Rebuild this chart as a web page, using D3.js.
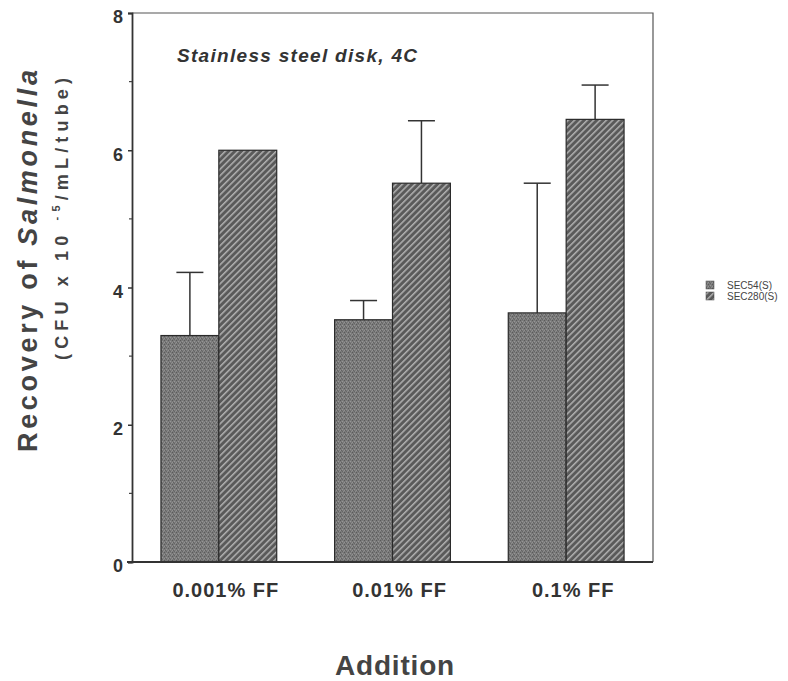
<!DOCTYPE html>
<html><head><meta charset="utf-8">
<script src="https://cdn.jsdelivr.net/npm/d3@7"></script>
<style>body{margin:0;background:#fff}svg{display:block}text{font-family:"Liberation Sans",Arial,sans-serif}</style>
</head><body><svg id="c" width="788" height="681"></svg>
<script>
const categories = ["0.001% FF", "0.01% FF", "0.1% FF"];
const seriesNames = ["SEC54(S)", "SEC280(S)"];
const sec54 = [3.30, 3.53, 3.63];
const sec54Err = [0.92, 0.28, 1.89];
const sec280 = [6.00, 5.52, 6.45];
const sec280Err = [0.0, 0.91, 0.50];
const yTicks = [0, 2, 4, 6, 8];
const yMinorTicks = [1, 3, 5, 7];

const svg = d3.select("#c");
const L = 132, R = 653, T = 13, B = 562;
const defs = svg.append("defs");
// stipple pattern
const p1 = defs.append("pattern").attr("id","stip").attr("patternUnits","userSpaceOnUse").attr("width",4).attr("height",4);
p1.append("rect").attr("width",4).attr("height",4).attr("fill","#7a7a7a");
[[0,0,"#5a5a5a"],[2,1,"#969696"],[1,2,"#626262"],[3,3,"#8c8c8c"],[2,3,"#666"],[0,2,"#929292"]].forEach(([x,y,c])=>p1.append("rect").attr("x",x).attr("y",y).attr("width",1).attr("height",1).attr("fill",c));
// hatch pattern
const p2 = defs.append("pattern").attr("id","hatch").attr("patternUnits","userSpaceOnUse").attr("width",4.5).attr("height",4.5).attr("patternTransform","rotate(45)");
p2.append("rect").attr("width",4.5).attr("height",4.5).attr("fill","#5a5a5a");
p2.append("rect").attr("x",0).attr("width",1.5).attr("height",4.5).attr("fill","#b0b0b0");

const x0 = d3.scaleBand().domain(categories).range([L, R]).paddingInner(1/3).paddingOuter(1/6);
const x1 = d3.scaleBand().domain(seriesNames).range([0, x0.bandwidth()]);
const y = d3.scaleLinear().domain([0, 8]).range([B, T]);

const data = categories.map((c,i)=>[
  {cat:c, s:seriesNames[0], v:sec54[i], e:sec54Err[i], fill:"url(#stip)"},
  {cat:c, s:seriesNames[1], v:sec280[i], e:sec280Err[i], fill:"url(#hatch)"}
]).flat();

// error bars
const eb = svg.append("g").attr("stroke","#333").attr("stroke-width",1.5);
data.filter(d=>d.e>0).forEach(d=>{
  const cx = x0(d.cat)+x1(d.s)+x1.bandwidth()/2;
  eb.append("line").attr("x1",cx).attr("x2",cx).attr("y1",y(d.v)).attr("y2",y(d.v+d.e));
  eb.append("line").attr("x1",cx-13.5).attr("x2",cx+13.5).attr("y1",y(d.v+d.e)).attr("y2",y(d.v+d.e));
});

svg.append("g").selectAll("rect").data(data).join("rect")
  .attr("x",d=>x0(d.cat)+x1(d.s)).attr("width",x1.bandwidth())
  .attr("y",d=>y(d.v)).attr("height",d=>y(0)-y(d.v))
  .attr("fill",d=>d.fill).attr("stroke","#2a2a2a").attr("stroke-width",1.2);

// frame
svg.append("path").attr("d",`M${L},${T}H${R}V${B}`).attr("fill","none").attr("stroke","#555").attr("stroke-width",1.2);

// y axis
const ya = svg.append("g").attr("transform",`translate(${L},0)`)
  .call(d3.axisLeft(y).tickValues(yTicks).tickSize(4).tickFormat(d3.format("d")));
ya.select(".domain").attr("stroke","#333").attr("stroke-width",1.8);
ya.selectAll(".tick line").attr("stroke","#333").attr("stroke-width",1.5);
ya.selectAll(".tick text").attr("font-size",18).attr("font-weight","bold").attr("fill","#333").attr("dy","0.55em").attr("x",-9);
svg.append("g").attr("transform",`translate(${L},0)`).selectAll("line").data(yMinorTicks).join("line")
  .attr("x1",-3).attr("x2",0).attr("y1",d=>y(d)).attr("y2",d=>y(d)).attr("stroke","#444").attr("stroke-width",1.2);

// x axis
const xa = svg.append("g").attr("transform",`translate(0,${B})`)
  .call(d3.axisBottom(x0).tickSize(0).tickPadding(0));
xa.select(".domain").attr("stroke","#333").attr("stroke-width",2.2).attr("d",`M${L-5},0H${R}`);
xa.selectAll(".tick text").attr("font-size",20).attr("font-weight","bold").attr("fill","#333")
  .attr("dy","0").attr("y",35).attr("dx",7).style("letter-spacing","1px");

// title inside plot
svg.append("text").attr("x",177).attr("y",62).attr("font-size",19).attr("font-weight","bold")
  .attr("font-style","italic").attr("fill","#333").style("letter-spacing","1.3px").text("Stainless steel disk, 4C");

// y axis titles
const yt1 = svg.append("text").attr("transform","translate(37,452) rotate(-90)")
  .attr("font-size",27).attr("font-weight","bold").attr("fill","#444");
yt1.append("tspan").text("Recovery of ");
yt1.append("tspan").attr("font-style","italic").text("Salmonella");
yt1.attr("textLength",382).attr("lengthAdjust","spacing");

const yt2 = svg.append("text").attr("transform","translate(68,360) rotate(-90)")
  .attr("font-size",18).attr("font-weight","bold").attr("fill","#444");
yt2.append("tspan").text("(CFU x 10 ");
yt2.append("tspan").attr("font-size",11).attr("dy",-8).text("-5");
yt2.append("tspan").attr("dy",8).text("/mL/tube)");
yt2.attr("textLength",282).attr("lengthAdjust","spacing");

// x axis title
svg.append("text").attr("x",395).attr("y",675).attr("text-anchor","middle").attr("font-size",28)
  .attr("font-weight","bold").attr("fill","#444").style("letter-spacing","0.8px").text("Addition");

// legend
const lg = svg.append("g");
seriesNames.forEach((s,i)=>{
  lg.append("rect").attr("x",706).attr("y",281+i*11).attr("width",8).attr("height",8)
    .attr("fill",i===0?"url(#stip)":"url(#hatch)").attr("stroke","#444").attr("stroke-width",0.5);
  lg.append("text").attr("x",727).attr("y",288.5+i*11).attr("font-size",10).attr("fill","#444").text(s);
});
</script></body></html>
